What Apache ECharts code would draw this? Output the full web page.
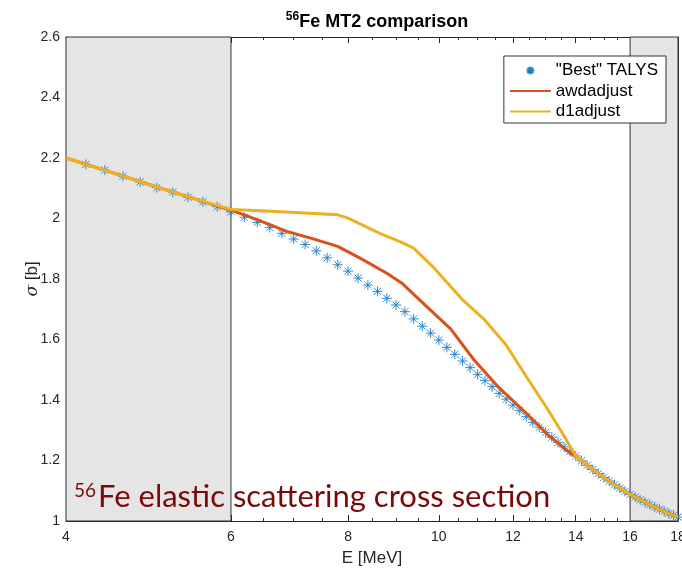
<!DOCTYPE html>
<html>
<head>
<meta charset="utf-8">
<script src="https://cdn.jsdelivr.net/npm/echarts@6/dist/echarts.min.js"></script>
<style>
  html, body { margin: 0; padding: 0; background: #fff; }
  #chart { width: 682px; height: 568px; }
</style>
</head>
<body>
<div id="chart"></div>
<script>
// Incident neutron energy (MeV) of the TALYS reference points
const talysE = [4.2, 4.4, 4.6, 4.8, 5.0, 5.2, 5.4, 5.6, 5.8, 6.0,
  6.2, 6.4, 6.6, 6.8, 7.0, 7.2, 7.4, 7.6, 7.8, 8.0,
  8.2, 8.4, 8.6, 8.8, 9.0, 9.2, 9.4, 9.6, 9.8, 10.0,
  10.2, 10.4, 10.6, 10.8, 11.0, 11.2, 11.4, 11.6, 11.8, 12.0,
  12.2, 12.4, 12.6, 12.8, 13.0, 13.2, 13.4, 13.6, 13.8, 14.0,
  14.2, 14.4, 14.6, 14.8, 15.0, 15.2, 15.4, 15.6, 15.8, 16.0,
  16.2, 16.4, 16.6, 16.8, 17.0, 17.2, 17.4, 17.6, 17.8, 18.0];
// Elastic cross section (b), "Best" TALYS
const talysXS = [2.179, 2.160, 2.140, 2.121, 2.102, 2.087, 2.070, 2.055, 2.039, 2.022,
  2.004, 1.987, 1.970, 1.951, 1.932, 1.914, 1.893, 1.870, 1.847, 1.826,
  1.803, 1.780, 1.759, 1.736, 1.714, 1.692, 1.668, 1.644, 1.621, 1.598,
  1.574, 1.551, 1.529, 1.507, 1.485, 1.464, 1.444, 1.422, 1.403, 1.383,
  1.365, 1.345, 1.326, 1.310, 1.293, 1.277, 1.260, 1.245, 1.230, 1.215,
  1.199, 1.184, 1.170, 1.157, 1.144, 1.132, 1.120, 1.109, 1.098, 1.088,
  1.079, 1.070, 1.062, 1.054, 1.046, 1.039, 1.032, 1.025, 1.019, 1.013];

// awdadjust evaluation
const awdE = [4.0, 4.5, 5.0, 5.5, 6.0, 6.2, 6.55, 6.9, 7.3, 7.8, 8.25, 8.8, 9.15, 9.6,
  10.3, 10.9, 11.6, 12.4, 13.1, 13.8, 14.0, 14.5, 15.0, 15.5, 16.0, 16.5, 17.0, 17.5, 18.0];
const awdXS = [2.200, 2.150, 2.104, 2.064, 2.027, 2.012, 1.984, 1.956, 1.935, 1.908, 1.868, 1.819, 1.784, 1.723,
  1.634, 1.533, 1.440, 1.356, 1.282, 1.225, 1.215, 1.177, 1.144, 1.114, 1.088, 1.066, 1.046, 1.028, 1.013];

// d1adjust evaluation
const d1E = [4.0, 4.5, 5.0, 5.5, 6.0, 6.55, 7.1, 7.8, 8.0, 8.65, 9.1, 9.4, 9.85, 10.6,
  11.15, 11.8, 12.4, 13.0, 13.55, 14.0, 14.5, 15.0, 15.5, 16.0, 16.5, 17.0, 17.5, 18.0];
const d1XS = [2.200, 2.150, 2.104, 2.064, 2.030, 2.025, 2.019, 2.012, 2.001, 1.951, 1.923, 1.902, 1.841, 1.731,
  1.670, 1.582, 1.477, 1.380, 1.290, 1.215, 1.177, 1.144, 1.114, 1.088, 1.066, 1.046, 1.028, 1.013];

// Shaded energy windows
const shadedRanges = [[4, 6], [16, 18]];

// Axis ticks
const xMajorTicks = [4, 6, 8, 10, 12, 14, 16, 18];
const xMinorTicks = [4.5, 5, 5.5, 6.5, 7, 7.5, 8.5, 9, 9.5, 10.5, 11, 11.5,
  12.5, 13, 13.5, 14.5, 15, 15.5, 16.5, 17, 17.5];
const yMin = 1, yMax = 2.6, yStep = 0.2;

const axisColor = '#262626';
const font = 'Liberation Sans, Arial, Helvetica, sans-serif';
const noteColor = '#7a0a0a';
const asterisk = 'path://M0,-1L0,1M-1,0L1,0M-0.71,-0.71L0.71,0.71M-0.71,0.71L0.71,-0.71';

const zip = (xs, ys) => xs.map((x, i) => [x, ys[i]]);

function xAxisBase(position, ticks, tickLen, withLabels) {
  return {
    type: 'log',
    min: 4,
    max: 18,
    position: position,
    axisLine: { show: true, onZero: false, lineStyle: { color: axisColor, width: 1 } },
    axisTick: { show: true, inside: true, length: tickLen, customValues: ticks,
      lineStyle: { color: axisColor, width: 1 } },
    axisLabel: withLabels
      ? { show: true, customValues: ticks, color: axisColor, fontSize: 14, fontFamily: font, margin: 9 }
      : { show: false },
    splitLine: { show: false },
    minorTick: { show: false }
  };
}

const chart = echarts.init(document.getElementById('chart'), null, { renderer: 'canvas' });

// Line legend entries show the stroke only
const hiddenMarker = { color: 'rgba(0,0,0,0)', borderColor: 'rgba(0,0,0,0)', borderWidth: 0 };

chart.setOption({
  animation: false,
  backgroundColor: '#fff',
  title: [
    {
      text: '{sup|56}{b|Fe MT2 comparison}',
      left: 372,
      top: 6,
      textAlign: 'center',
      textStyle: {
        fontWeight: 'bold',
        rich: {
          sup: { fontSize: 12, fontWeight: 'bold', fontFamily: font, color: '#000', verticalAlign: 'top', lineHeight: 14 },
          b: { fontSize: 18, fontWeight: 'bold', fontFamily: font, color: '#000', lineHeight: 22 }
        }
      }
    },
    {
      text: '{sup|56}{t|Fe elastic scattering cross section}',
      left: 69,
      top: 473,
      textStyle: {
        fontWeight: 'normal',
        rich: {
          sup: { fontSize: 19, fontWeight: 'normal', fontFamily: 'Lato', color: noteColor, verticalAlign: 'top', lineHeight: 22, padding: [3, 2, 0, 0] },
          t: { fontSize: 31, fontWeight: 'normal', fontFamily: 'Lato', color: noteColor, lineHeight: 37 }
        }
      }
    }
  ],
  grid: { left: 66, right: 4, top: 37, bottom: 47, containLabel: false, outerBoundsMode: 'none' },
  legend: {
    orient: 'vertical',
    right: 16,
    top: 56,
    itemWidth: 41,
    itemHeight: 8,
    itemGap: 3.5,
    padding: [6, 8, 3, 5],
    backgroundColor: '#fff',
    borderColor: '#333',
    borderWidth: 1,
    selectedMode: false,
    textStyle: { fontSize: 17, fontFamily: font, color: '#000', lineHeight: 17 },
    data: [
      { name: '"Best" TALYS' },
      { name: 'awdadjust', itemStyle: hiddenMarker },
      { name: 'd1adjust', itemStyle: hiddenMarker }
    ]
  },
  xAxis: [
    Object.assign(xAxisBase('bottom', xMajorTicks, 6, true), {
      name: 'E [MeV]',
      nameLocation: 'middle',
      nameGap: 29,
      nameMoveOverlap: false,
      nameTextStyle: { fontSize: 17, fontFamily: font, color: axisColor }
    }),
    Object.assign(xAxisBase('bottom', xMinorTicks, 3, false), { axisLine: { show: false } }),
    xAxisBase('top', xMajorTicks, 6, false),
    Object.assign(xAxisBase('top', xMinorTicks, 3, false), { axisLine: { show: false } })
  ],
  yAxis: [
    {
      type: 'value',
      min: yMin,
      max: yMax,
      interval: yStep,
      position: 'left',
      name: '{s|σ} [b]',
      nameLocation: 'middle',
      nameGap: 25,
      nameMoveOverlap: false,
      nameTextStyle: {
        fontSize: 17, fontFamily: font, color: axisColor,
        rich: { s: { fontSize: 17, fontFamily: 'DejaVu Serif', fontStyle: 'italic', color: axisColor } }
      },
      axisLine: { show: true, onZero: false, lineStyle: { color: axisColor, width: 1 } },
      axisTick: { show: true, inside: true, length: 6, lineStyle: { color: axisColor } },
      axisLabel: { color: axisColor, fontSize: 14, fontFamily: font, margin: 6 },
      splitLine: { show: false }
    },
    {
      type: 'value',
      min: yMin,
      max: yMax,
      interval: yStep,
      position: 'right',
      axisLine: { show: true, onZero: false, lineStyle: { color: axisColor, width: 1 } },
      axisTick: { show: true, inside: true, length: 6, lineStyle: { color: axisColor } },
      axisLabel: { show: false },
      splitLine: { show: false }
    }
  ],
  series: [
    {
      name: '"Best" TALYS',
      type: 'scatter',
      xAxisIndex: 0,
      yAxisIndex: 0,
      data: zip(talysE, talysXS),
      symbol: asterisk,
      symbolSize: 10,
      symbolKeepAspect: true,
      itemStyle: { color: 'rgba(0,0,0,0)', borderColor: '#1a7fc6', borderWidth: 0.9, opacity: 1 },
      markArea: {
        silent: true,
        itemStyle: { color: '#e5e5e5', borderColor: '#333', borderWidth: 1 },
        data: shadedRanges.map(r => [{ xAxis: r[0], yAxis: yMin }, { xAxis: r[1], yAxis: yMax }])
      },
      z: 2
    },
    {
      name: 'awdadjust',
      type: 'line',
      xAxisIndex: 0,
      yAxisIndex: 0,
      data: zip(awdE, awdXS),
      symbol: 'none',
      lineStyle: { color: '#D95319', width: 3 },
      itemStyle: { color: '#D95319' },
      z: 3
    },
    {
      name: 'd1adjust',
      type: 'line',
      xAxisIndex: 0,
      yAxisIndex: 0,
      data: zip(d1E, d1XS),
      symbol: 'none',
      lineStyle: { color: '#EDB120', width: 3 },
      itemStyle: { color: '#EDB120' },
      z: 4
    }
  ]
});
</script>
</body>
</html>
